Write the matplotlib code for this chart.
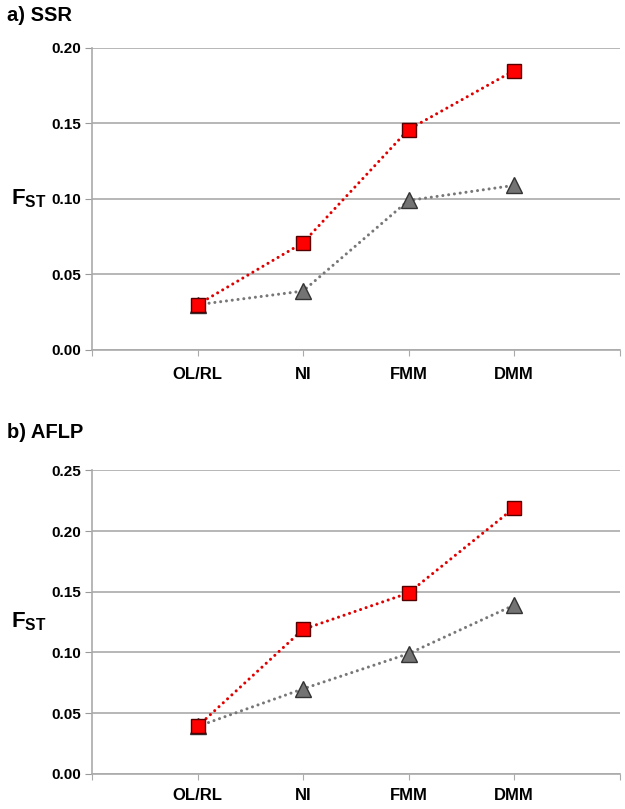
import matplotlib.pyplot as plt

plt.rcParams['font.family'] = ['Liberation Sans', 'DejaVu Sans']
plt.rcParams['mathtext.fontset'] = 'custom'
plt.rcParams['mathtext.rm'] = 'Liberation Sans:bold'
plt.rcParams['mathtext.bf'] = 'Liberation Sans:bold'
plt.rcParams['mathtext.it'] = 'Liberation Sans:bold'

categories = ['OL/RL', 'NI', 'FMM', 'DMM']

ssr_red = [0.030, 0.071, 0.146, 0.185]
ssr_grey = [0.030, 0.039, 0.099, 0.109]
aflp_red = [0.039, 0.119, 0.149, 0.219]
aflp_grey = [0.039, 0.070, 0.099, 0.139]

panels = [
    ('a) SSR', ssr_red, ssr_grey, 0.20, [0.00, 0.05, 0.10, 0.15, 0.20]),
    ('b) AFLP', aflp_red, aflp_grey, 0.25, [0.00, 0.05, 0.10, 0.15, 0.20, 0.25]),
]
boxes = [[0.1472, 0.5674, 0.844, 0.3733], [0.1472, 0.0435, 0.844, 0.375]]
title_y = [0.993, 0.477]
pads = [8, 6]

fig = plt.figure(figsize=(6.25, 8.09), dpi=100)

dots = (0, (0.01, 1.9))
for (title, red, grey, ymax, ticks), box, ty, pad in zip(panels, boxes, title_y, pads):
    ax = fig.add_axes(box)
    x = list(range(1, len(categories) + 1))
    ax.plot(x, grey, linestyle=dots, color='#777777', linewidth=2.2,
            dash_capstyle='round', marker='^', markersize=11,
            markerfacecolor='#737373', markeredgecolor='#333333', markeredgewidth=1)
    ax.plot(x, red, linestyle=dots, color='#e00000', linewidth=2.2,
            dash_capstyle='round', marker='s', markersize=10,
            markerfacecolor='#ff0000', markeredgecolor='#550000', markeredgewidth=1)
    ax.set_xlim(0, 5)
    ax.set_ylim(0, ymax)
    ax.set_yticks(ticks)
    ax.set_yticklabels(['%.2f' % t for t in ticks], fontsize=11, fontweight='bold')
    ax.set_xticks([0] + x + [5])
    ax.set_xticklabels([''] + categories + [''], fontsize=12, fontweight='bold')
    ax.tick_params(axis='x', length=4, color='#aaaaaa', pad=pad)
    ax.tick_params(axis='y', length=5, color='#999999', pad=3)
    ax.yaxis.grid(True, color='#aaaaaa', linewidth=1.2)
    ax.set_axisbelow(True)
    for s in ['top', 'right']:
        ax.spines[s].set_visible(False)
    ax.spines['left'].set_color('#aaaaaa')
    ax.spines['left'].set_linewidth(1.2)
    ax.spines['bottom'].set_color('#aaaaaa')
    ax.spines['bottom'].set_linewidth(1.2)
    ax.set_ylabel(r'$\mathrm{F_{ST}}$', fontsize=16, rotation=0, labelpad=16, va='center')
    fig.text(0.011, ty, title, fontsize=14.5, fontweight='bold', va='top')

fig.savefig('out.png', dpi=100)
